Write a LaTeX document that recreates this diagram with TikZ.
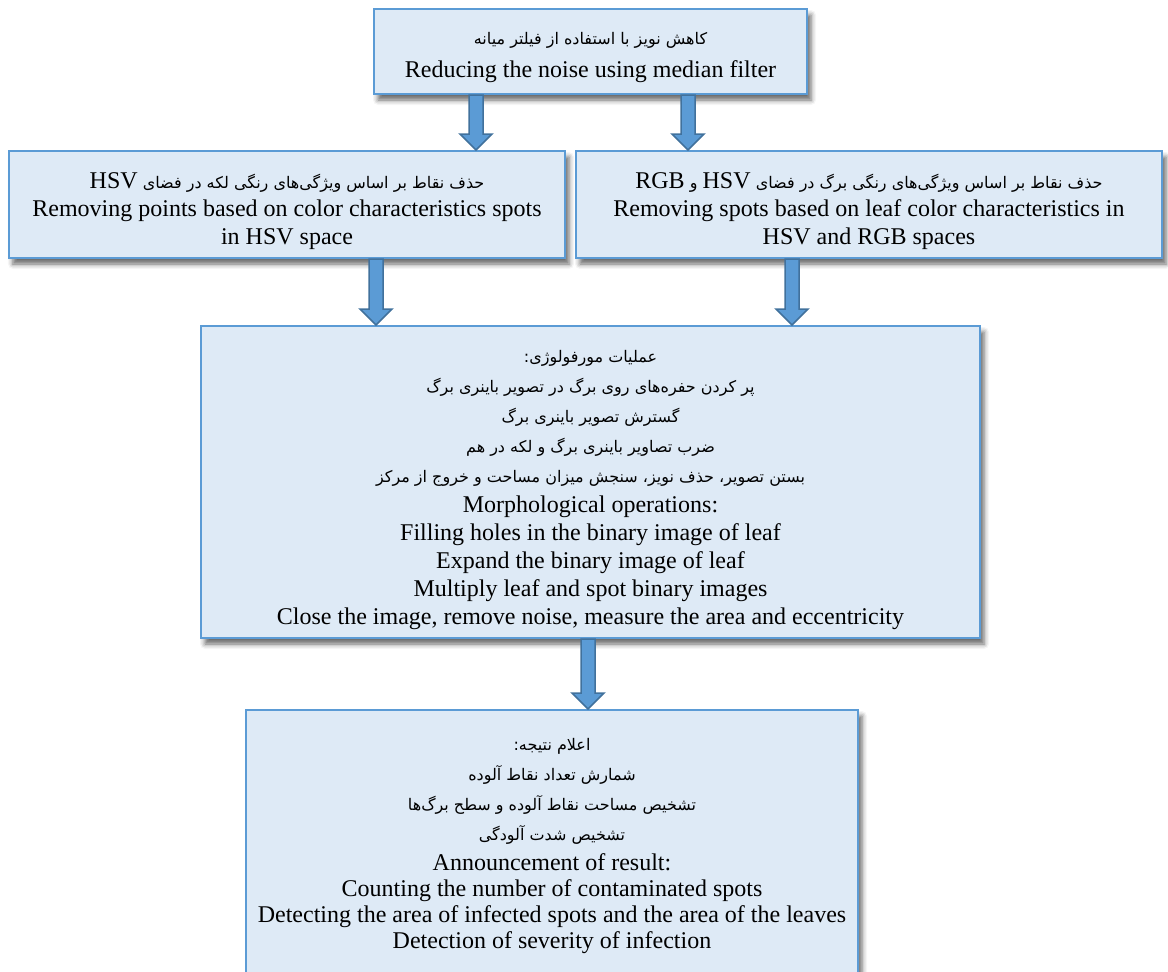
\documentclass[tikz,border=0pt]{standalone}
\usepackage{fontspec}
\setmainfont{Liberation Serif}
\newfontfamily\arfont[Script=Arabic]{DejaVu Sans}
\TeXXeTstate=1
\usetikzlibrary{calc,shadows.blur}
\definecolor{boxfill}{HTML}{DEEAF6}
\definecolor{boxline}{HTML}{5B9BD5}
\definecolor{arrfill}{HTML}{5B9BD5}
\definecolor{arrline}{HTML}{41719C}
\newcommand{\fa}[1]{{\arfont\fontsize{16}{30}\selectfont\beginR #1\endR}}
\newcommand{\lat}[1]{\beginL{\rmfamily\fontsize{24}{28}\selectfont #1}\endL}
\newcommand{\tg}[1]{\rule{0pt}{#1}}
\newcommand{\blockarrow}[3]{%
  \draw[barrowstyle] let \p1=(#2.south), \p2=(#3.north) in
  ({#1pt-7pt},\y1) -- ({#1pt+7pt},\y1) -- ({#1pt+7pt},\y2+16pt) -- ({#1pt+16pt},\y2+16pt)
  -- (#1pt,\y2) -- ({#1pt-16pt},\y2+16pt) -- ({#1pt-7pt},\y2+16pt) -- cycle;}
\tikzset{
  box/.style={draw=boxline, line width=2pt, fill=boxfill, align=center, inner sep=3pt,
    font=\fontsize{24}{28}\selectfont,
    blur shadow={shadow xshift=4pt, shadow yshift=-6pt, shadow blur radius=5pt, shadow opacity=60}},
  barrowstyle/.style={draw=arrline, line width=1.5pt, fill=arrfill, line join=miter}
}
\begin{document}
\begin{tikzpicture}[x=1pt,y=-1pt]
\useasboundingbox (0,0) rectangle (1168,972);
\node[box, minimum width=433, minimum height=85] (top) at (590.5,51.5)
  {\tg{24pt}\fa{کاهش نویز با استفاده از فیلتر میانه}\\[5pt] Reducing the noise using median filter};
\node[box, minimum width=556, minimum height=107] (left) at (287,204.5)
  {\tg{30pt}\fa{حذف نقاط بر اساس ویژگی‌های رنگی لکه در فضای \lat{HSV}}\\
   Removing points based on color characteristics spots\\ in HSV space};
\node[box, minimum width=586, minimum height=107] (right) at (869,204.5)
  {\tg{30pt}\fa{حذف نقاط بر اساس ویژگی‌های رنگی برگ در فضای \lat{HSV} و \lat{RGB}}\\
   Removing spots based on leaf color characteristics in\\ HSV and RGB spaces};
\node[box, minimum width=779, minimum height=312] (mid) at (590.5,482)
  {\tg{29pt}\fa{عملیات مورفولوژی:}\\[2pt]
   \fa{پر کردن حفره‌های روی برگ در تصویر باینری برگ}\\[2pt]
   \fa{گسترش تصویر باینری برگ}\\[2pt]
   \fa{ضرب تصاویر باینری برگ و لکه در هم}\\[2pt]
   \fa{بستن تصویر، حذف نویز، سنجش میزان مساحت و خروج از مرکز}\\[2pt]
   Morphological operations:\\
   Filling holes in the binary image of leaf\\
   Expand the binary image of leaf\\
   Multiply leaf and spot binary images\\
   Close the image, remove noise, measure the area and eccentricity};
\node[box, minimum width=612, minimum height=265] (bot) at (552,842.5)
  {\tg{19pt}\fa{اعلام نتیجه:}\\[2pt]
   \fa{شمارش تعداد نقاط آلوده}\\[2pt]
   \fa{تشخیص مساحت نقاط آلوده و سطح برگ‌ها}\\[2pt]
   \fa{تشخیص شدت آلودگی}\\[2pt]
   Announcement of result:\\[-2pt]
   Counting the number of contaminated spots\\[-2pt]
   Detecting the area of infected spots and the area of the leaves\\[-2pt]
   Detection of severity of infection};
\blockarrow{476}{top}{left}
\blockarrow{688}{top}{right}
\blockarrow{376}{left}{mid}
\blockarrow{792}{right}{mid}
\blockarrow{588}{mid}{bot}
\end{tikzpicture}
\end{document}
